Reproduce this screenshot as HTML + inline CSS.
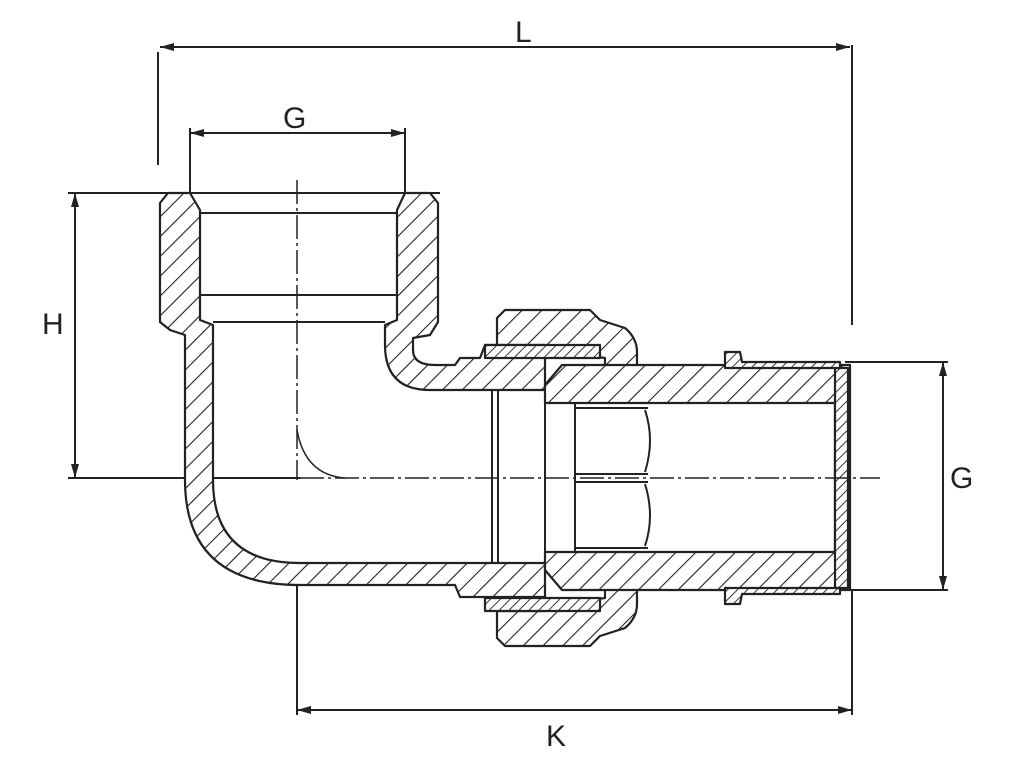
<!DOCTYPE html>
<html><head><meta charset="utf-8"><style>
html,body{margin:0;padding:0;background:#fff;}
svg{display:block;}
text{font-family:"Liberation Sans",sans-serif;font-size:30px;fill:#222;}
</style></head><body>
<svg width="1024" height="767" viewBox="0 0 1024 767" xmlns="http://www.w3.org/2000/svg">
<defs>
<pattern id="h" width="14" height="14" patternUnits="userSpaceOnUse" patternTransform="rotate(45)">
<rect width="14" height="14" fill="#fff"/>
<line x1="0" y1="0" x2="0" y2="14" stroke="#222" stroke-width="2.2"/>
</pattern>
<pattern id="hs" width="7" height="7" patternUnits="userSpaceOnUse" patternTransform="rotate(45)">
<rect width="7" height="7" fill="#fff"/>
<line x1="0" y1="0" x2="0" y2="7" stroke="#222" stroke-width="1.8"/>
</pattern>
<marker id="a" markerWidth="14" markerHeight="8" refX="14" refY="4" orient="auto" markerUnits="userSpaceOnUse">
<path d="M0,0 L14,4 L0,8 Z" fill="#222"/>
</marker>
</defs>
<g stroke="#222" stroke-width="2" fill="none">
<line x1="170" y1="47" x2="850" y2="47" marker-end="url(#a)"/>
<line x1="840" y1="47" x2="160" y2="47" marker-end="url(#a)"/>
<line x1="158" y1="52" x2="158" y2="165"/>
<line x1="852" y1="45" x2="852" y2="325"/>
<line x1="200" y1="133" x2="405" y2="133" marker-end="url(#a)"/>
<line x1="395" y1="133" x2="190" y2="133" marker-end="url(#a)"/>
<line x1="190" y1="128" x2="190" y2="195"/>
<line x1="405" y1="128" x2="405" y2="195"/>
<line x1="75" y1="205" x2="75" y2="478" marker-end="url(#a)"/>
<line x1="75" y1="466" x2="75" y2="193" marker-end="url(#a)"/>
<line x1="68" y1="193" x2="440" y2="193"/>
<line x1="68" y1="478" x2="300" y2="478"/>
<line x1="943" y1="372" x2="943" y2="590" marker-end="url(#a)"/>
<line x1="943" y1="580" x2="943" y2="362" marker-end="url(#a)"/>
<line x1="845" y1="362" x2="948" y2="362"/>
<line x1="845" y1="590" x2="948" y2="590"/>
<line x1="307" y1="710" x2="852" y2="710" marker-end="url(#a)"/>
<line x1="842" y1="710" x2="297" y2="710" marker-end="url(#a)"/>
<line x1="297" y1="565" x2="297" y2="715"/>
<line x1="852" y1="590" x2="852" y2="715"/>
</g>
<g stroke="#222" stroke-width="2.2" stroke-linejoin="round">
<path fill="url(#h)" d="M190,193 L168,193 L160,203 L160,322 L170,330 L185,335 L185,480 Q185,585 300,585 L455,585 L460,597 L545,597 L545,563 L300,563 Q213,563 213,480 L213,325 L200,320 L200,210 Z"/>
<path fill="url(#h)" d="M405,193 L430,193 L438,203 L438,322 L430,335 L413,338 L413,350 Q413,365 435,365 L455,365 L460,358 L480,358 L485,345 L545,345 L545,390 L430,390 Q385,390 385,345 L385,325 L397,320 L397,210 Z"/>
<path fill="url(#h)" d="M497,345 L497,318 L505,310 L590,310 L600,320 L625,328 Q637,338 637,352 L637,372 L605,372 L605,358 L560,352 L545,345 Z"/>
<path fill="url(#h)" d="M497,611 L497,638 L505,646 L590,646 L600,636 L625,628 Q637,618 637,604 L637,584 L605,584 L605,598 L560,604 L545,611 Z"/>
<path fill="url(#hs)" d="M485,345 L600,345 L600,358 L485,358 Z"/>
<path fill="url(#hs)" d="M485,598 L600,598 L600,611 L485,611 Z"/>
<path fill="url(#h)" d="M545,403 L545,385 L562,365 L850,365 L850,590 L562,590 L545,570 L545,552 L835,552 L835,403 Z"/>
<path fill="url(#hs)" d="M835,368 L848,368 L848,588 L835,588 Z"/>
<path fill="url(#hs)" d="M725,352 L740,352 L742,362 L840,362 L840,368 L725,368 Z"/>
<path fill="url(#hs)" d="M725,604 L740,604 L742,594 L840,594 L840,588 L725,588 Z"/>
</g>
<g stroke="#222" stroke-width="2" fill="none">
<line x1="200" y1="213" x2="397" y2="213"/>
<line x1="200" y1="295" x2="397" y2="295"/>
<line x1="213" y1="322" x2="385" y2="322"/>
<line x1="492" y1="390" x2="492" y2="563"/>
<line x1="498" y1="390" x2="498" y2="563"/>
<line x1="545" y1="390" x2="545" y2="563"/>
<line x1="575" y1="403" x2="575" y2="552"/>
<line x1="575" y1="408" x2="648" y2="408"/>
<line x1="575" y1="548" x2="648" y2="548"/>
<path d="M645,410 Q655,440 645,472"/>
<path d="M645,484 Q655,516 645,546"/>
<line x1="575" y1="474" x2="648" y2="474"/>
<line x1="575" y1="482" x2="648" y2="482"/>
</g>
<g stroke="#222" stroke-width="1.5" fill="none">
<line x1="297" y1="180" x2="297" y2="480" stroke-dasharray="24,4,3,4"/>
<line x1="300" y1="478" x2="880" y2="478" stroke-dasharray="24,4,3,4"/>
<path d="M297,430 Q305,475 345,478"/>
</g>
<text x="515" y="42">L</text>
<text x="283" y="128">G</text>
<text x="42" y="334">H</text>
<text x="950" y="488">G</text>
<text x="546" y="746">K</text>
</svg>
</body></html>
